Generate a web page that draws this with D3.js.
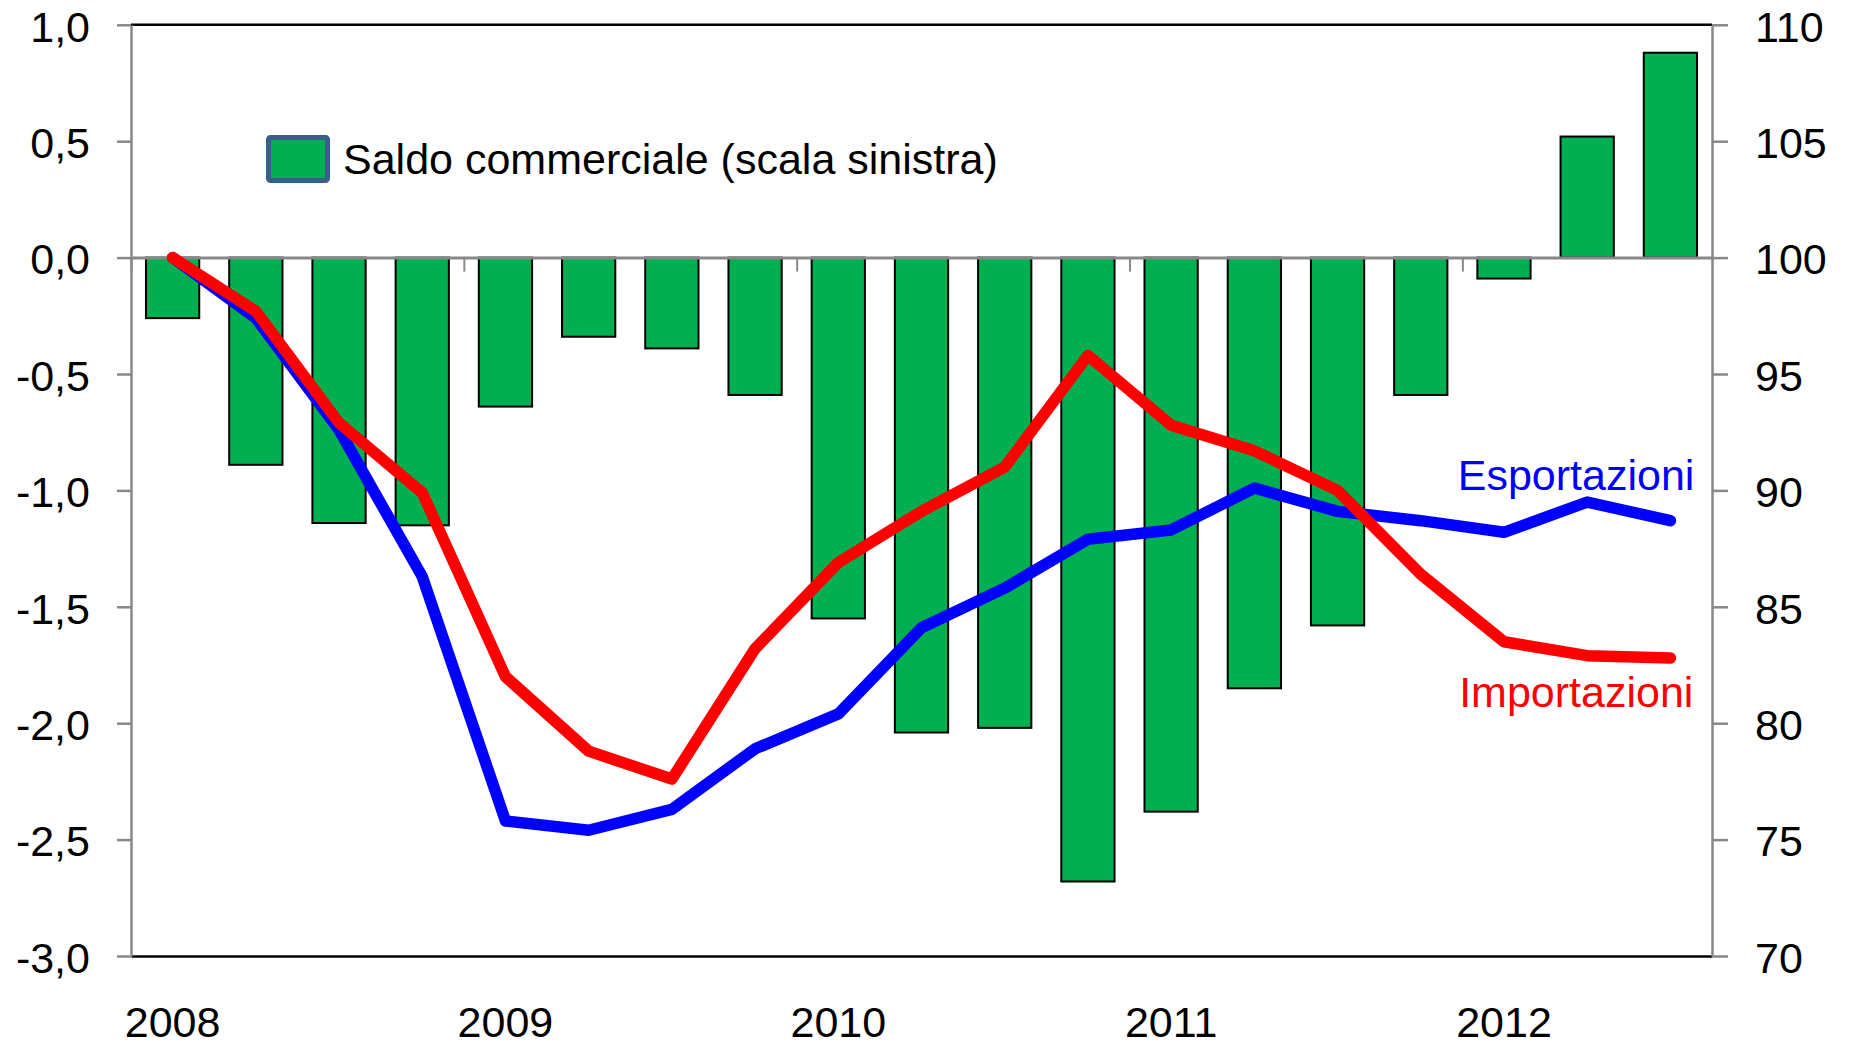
<!DOCTYPE html>
<html>
<head>
<meta charset="utf-8">
<script src="https://cdn.jsdelivr.net/npm/d3@7"></script>
<style>
  html, body { margin: 0; padding: 0; background: #fff; }
  svg { display: block; font-family: "Liberation Sans", Arial, Helvetica, sans-serif; }
</style>
</head>
<body>
<svg id="chart" width="1851" height="1046"></svg>
<script>
// ---- data ----
const categories = ["2008Q1","2008Q2","2008Q3","2008Q4","2009Q1","2009Q2","2009Q3","2009Q4",
  "2010Q1","2010Q2","2010Q3","2010Q4","2011Q1","2011Q2","2011Q3","2011Q4","2012Q1","2012Q2","2012Q3"];
const saldo = [-0.26, -0.89, -1.14, -1.15, -0.64, -0.34, -0.39, -0.59, -1.55, -2.04, -2.02,
  -2.68, -2.38, -1.85, -1.58, -0.59, -0.09, 0.52, 0.88];
const esportazioni = [100, 97.4, 92.6, 86.3, 75.8, 75.4, 76.3, 78.9, 80.4, 84.1, 85.8,
  87.9, 88.3, 90.1, 89.1, 88.7, 88.2, 89.5, 88.7];
const importazioni = [100, 97.7, 92.9, 89.9, 82.0, 78.8, 77.6, 83.2, 86.9, 89.1, 91.0,
  95.8, 92.8, 91.7, 90.0, 86.4, 83.5, 82.9, 82.8];
const leftTicks = [-3, -2.5, -2, -1.5, -1, -0.5, 0, 0.5, 1];
const rightTicks = [70, 75, 80, 85, 90, 95, 100, 105, 110];
const yearTicks = ["2008Q1","2009Q1","2010Q1","2011Q1","2012Q1"];
const yearBoundaries = [0, 4, 8, 12, 16];
const legendLabel = "Saldo commerciale (scala sinistra)";

// ---- layout ----
const L = 131, R = 1712, T = 24.8, B = 956;
const FONT = 43;
const svg = d3.select("#chart");

const x = d3.scaleBand().domain(categories).range([L, R]).paddingInner(0.36).paddingOuter(0.18);
const xb = d3.scaleLinear().domain([0, categories.length]).range([L, R]);
const yL = d3.scaleLinear().domain([-3, 1]).range([B, T]);
const yR = d3.scaleLinear().domain([70, 110]).range([B, T]);
const cx = c => x(c) + x.bandwidth() / 2;

// bars
svg.append("g").selectAll("rect").data(categories).join("rect")
  .attr("x", c => x(c))
  .attr("width", x.bandwidth())
  .attr("y", (c, i) => yL(Math.max(0, saldo[i])))
  .attr("height", (c, i) => Math.abs(yL(saldo[i]) - yL(0)))
  .attr("fill", "#00B050")
  .attr("stroke", "#000")
  .attr("stroke-width", 2);

// top border
svg.append("line").attr("x1", L).attr("x2", R).attr("y1", T).attr("y2", T)
  .attr("stroke", "#000").attr("stroke-width", 2.5);

// bottom axis: year labels with black border as domain
const xAxis = svg.append("g").attr("transform", `translate(0,${B})`)
  .call(d3.axisBottom(x).tickValues(yearTicks).tickSize(0).tickSizeOuter(0).tickPadding(50)
    .tickFormat(c => c.slice(0, 4)));
xAxis.select(".domain").attr("stroke", "#000").attr("stroke-width", 2.5);
xAxis.selectAll("text").attr("font-size", FONT).attr("fill", "#000").attr("font-family", null);

// zero line with small boundary ticks
const zAxis = svg.append("g").attr("transform", `translate(0,${yL(0)})`)
  .call(d3.axisBottom(xb).tickValues(yearBoundaries).tickSize(14).tickSizeOuter(0).tickFormat(""));
zAxis.select(".domain").attr("stroke", "#888").attr("stroke-width", 3);
zAxis.selectAll(".tick line").attr("stroke", "#888").attr("stroke-width", 2);

// left axis
const fmt = d => d3.format(".1f")(d).replace(".", ",").replace("\u2212", "-");
const lAxis = svg.append("g").attr("transform", `translate(${L},0)`)
  .call(d3.axisLeft(yL).tickValues(leftTicks).tickSize(14).tickSizeOuter(0).tickPadding(27).tickFormat(fmt));
lAxis.select(".domain").attr("stroke", "#888").attr("stroke-width", 2.5);
lAxis.selectAll(".tick line").attr("stroke", "#888").attr("stroke-width", 2.5);
lAxis.selectAll("text").attr("font-size", FONT).attr("fill", "#000").attr("font-family", null).attr("dy", "0.38em");

// right axis
const rAxis = svg.append("g").attr("transform", `translate(${R},0)`)
  .call(d3.axisRight(yR).tickValues(rightTicks).tickSize(16).tickSizeOuter(0).tickPadding(27).tickFormat(d3.format("d")));
rAxis.select(".domain").attr("stroke", "#888").attr("stroke-width", 2.5);
rAxis.selectAll(".tick line").attr("stroke", "#888").attr("stroke-width", 2.5);
rAxis.selectAll("text").attr("font-size", FONT).attr("fill", "#000").attr("font-family", null).attr("dy", "0.38em");

// lines
const line = arr => d3.line().x((d, i) => cx(categories[i])).y(d => yR(d))(arr);
svg.append("path").attr("d", line(esportazioni)).attr("fill", "none")
  .attr("stroke", "#0000FF").attr("stroke-width", 11.5).attr("stroke-linecap", "round").attr("stroke-linejoin", "round");
svg.append("path").attr("d", line(importazioni)).attr("fill", "none")
  .attr("stroke", "#FF0000").attr("stroke-width", 11.5).attr("stroke-linecap", "round").attr("stroke-linejoin", "round");

// series labels
const lastC = categories[categories.length - 1];
svg.append("text").attr("x", cx(lastC) + 24).attr("y", yR(90))
  .attr("text-anchor", "end").attr("font-size", FONT).attr("fill", "#0000FF").text("Esportazioni");
svg.append("text").attr("x", cx(lastC) + 23).attr("y", yR(80.7))
  .attr("text-anchor", "end").attr("font-size", FONT).attr("fill", "#FF0000").text("Importazioni");

// legend
svg.append("rect").attr("x", 268.5).attr("y", 137.5).attr("width", 59).attr("height", 43)
  .attr("rx", 2).attr("fill", "#00B050").attr("stroke", "#3A5D8C").attr("stroke-width", 5);
svg.append("text").attr("x", 343).attr("y", 174).attr("font-size", FONT).attr("fill", "#000").text(legendLabel);
</script>
</body>
</html>
